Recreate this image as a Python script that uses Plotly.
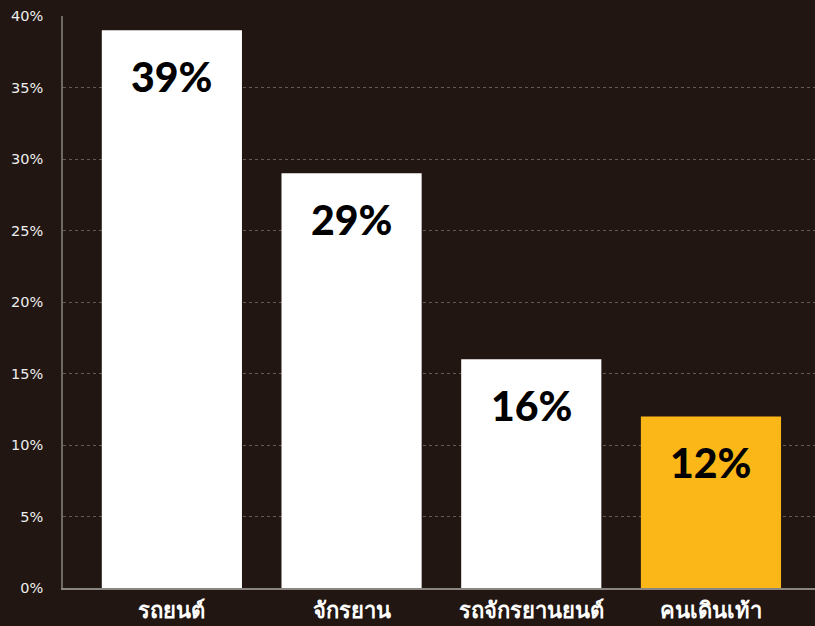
import plotly.graph_objects as go

# Share of road accident deaths by road user type
categories = ["รถยนต์", "จักรยาน", "รถจักรยานยนต์", "คนเดินเท้า"]
shares = [39, 29, 16, 12]
bar_colors = ["#ffffff", "#ffffff", "#ffffff", "#fbb718"]
tick_vals = [0, 5, 10, 15, 20, 25, 30, 35, 40]
tick_text = [f"{v}%" for v in tick_vals]

bg = "#221612"

fig = go.Figure(
    go.Bar(
        x=categories,
        y=shares,
        marker=dict(color=bar_colors, line=dict(width=0)),
        width=0.78,
        hoverinfo="skip",
    )
)

# Value labels placed just below each bar's top
for cat, val in zip(categories, shares):
    fig.add_annotation(
        x=cat, y=val, text=f"{val}%", showarrow=False,
        yanchor="top", yshift=-20,
        font=dict(family="Lato, sans-serif", size=41, color="#000000", weight=900),
    )

fig.update_layout(
    width=815, height=626,
    margin=dict(l=63, r=0, t=16, b=38),
    paper_bgcolor=bg, plot_bgcolor=bg,
    showlegend=False,
    xaxis=dict(
        range=[-0.606, 3.579],
        automargin=False,
        showline=True, linecolor="#8a8581", linewidth=1.5,
        showgrid=False, ticks="",
        tickfont=dict(family="Noto Sans, sans-serif", size=22, color="#ffffff"),
        ticklabelstandoff=2,
    ),
    yaxis=dict(
        range=[0, 40],
        automargin=False,
        tickvals=tick_vals, ticktext=tick_text,
        showline=True, linecolor="#6e6864", linewidth=1.5,
        showgrid=True, gridcolor="rgba(190,175,165,0.45)", griddash="dot", gridwidth=1,
        zeroline=False, ticks="",
        tickfont=dict(family="DejaVu Sans, sans-serif", size=14.5, color="#eeeeee"),
        ticklabelstandoff=15,
    ),
)

# Bold Thai category labels
fig.update_xaxes(tickvals=categories, ticktext=[f"<b>{c}</b>" for c in categories])

fig.write_html("out.html")
